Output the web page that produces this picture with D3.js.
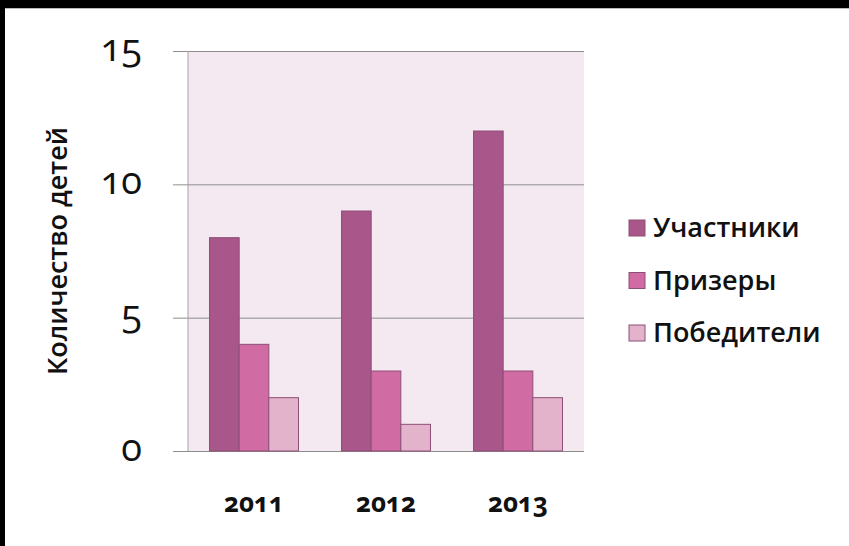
<!DOCTYPE html>
<html>
<head>
<meta charset="utf-8">
<script src="https://cdn.jsdelivr.net/npm/d3@7"></script>
<style>
  html, body { margin: 0; padding: 0; background: #fff; overflow: hidden; }
  svg { display: block; }
</style>
</head>
<body>
<svg id="chart" width="849" height="546"></svg>
<script>
var years = ["2011", "2012", "2013"];
var seriesNames = ["Участники", "Призеры", "Победители"];
var uchastniki = [8, 9, 12];
var prizery = [4, 3, 3];
var pobediteli = [2, 1, 2];
var yTicks = [0, 5, 10, 15];
var colors = ["#a9578a", "#d06ba4", "#e3b3cb"];

var seriesValues = [uchastniki, prizery, pobediteli];
var rows = years.map(function(y, i) {
    return { year: y, values: seriesValues.map(function(s, j) { return { name: seriesNames[j], value: s[i], color: colors[j] }; }) };
});

var svg = d3.select("#chart");

// white panel, black frame on top and left
svg.append("rect")
    .attr("width", 849).attr("height", 546)
    .attr("fill", "#fff");
svg.append("rect")
    .attr("width", 849).attr("height", 8)
    .attr("fill", "#000");
svg.append("rect")
    .attr("width", 5).attr("height", 546)
    .attr("fill", "#000");
svg.append("line")
    .attr("x1", 5).attr("x2", 849).attr("y1", 8.5).attr("y2", 8.5)
    .attr("stroke", "#bbb");

var margin = { top: 51, left: 188, right: 265, bottom: 95 };
var width = 849 - margin.left - margin.right;   // 396
var height = 546 - margin.top - margin.bottom;  // 400

var g = svg.append("g").attr("transform", `translate(${margin.left},${margin.top})`);

var xScale = d3.scaleBand()
    .domain(years)
    .range([0, width])
    .paddingInner(0.326)
    .paddingOuter(0.163);

var xInner = d3.scaleBand()
    .domain(seriesNames)
    .range([0, xScale.bandwidth()]);

var yScale = d3.scaleLinear()
    .domain([0, 15])
    .range([height, 0]);

// plot background
g.append("rect")
    .attr("width", width).attr("height", height)
    .attr("fill", "#f4e9f0");

// grid lines (with small ticks to the left)
g.append("g")
    .call(d3.axisLeft(yScale).tickValues(yTicks).tickSize(-width).tickFormat(""))
    .call(function(a) {
        a.select(".domain").remove();
        a.selectAll(".tick line").attr("stroke", "#8e8e8e").attr("x1", -15);
    });

// vertical axis line
g.append("line")
    .attr("x1", 0).attr("x2", 0)
    .attr("y1", 0).attr("y2", height)
    .attr("stroke", "#a8a0a6");

// y tick labels
g.selectAll(".ylab")
    .data(yTicks)
    .enter()
    .append("text")
    .attr("class", "ylab")
    .attr("x", -46)
    .attr("y", function(d) { return yScale(d); })
    .attr("dy", "0.25em")
    .attr("text-anchor", "end")
    .style("font-family", "'Open Sans', sans-serif")
    .style("font-variant-numeric", "oldstyle-nums")
    .style("font-size", "38px")
    .style("font-weight", "400")
    .style("fill", "#111")
    .text(function(d) { return d; });

// bars
var groups = g.selectAll(".grp")
    .data(rows)
    .enter()
    .append("g")
    .attr("class", "grp")
    .attr("transform", function(d) { return `translate(${xScale(d.year)},0)`; });

groups.selectAll("rect")
    .data(function(d) { return d.values; })
    .enter()
    .append("rect")
    .attr("x", function(d) { return xInner(d.name); })
    .attr("y", function(d) { return yScale(d.value); })
    .attr("width", xInner.bandwidth())
    .attr("height", function(d) { return height - yScale(d.value); })
    .attr("fill", function(d) { return d.color; })
    .attr("stroke", "#8d4f76")
    .attr("stroke-width", 1);

// year labels
g.selectAll(".xlab")
    .data(years)
    .enter()
    .append("text")
    .attr("class", "xlab")
    .attr("x", function(d) { return xScale(d) + xScale.bandwidth() / 2; })
    .attr("y", height + 61)
    .attr("text-anchor", "middle")
    .style("font-family", "'Open Sans', sans-serif")
    .style("font-variant-numeric", "oldstyle-nums")
    .style("font-size", "26px")
    .style("font-weight", "700")
    .style("fill", "#111")
    .text(function(d) { return d; });

// y axis title
svg.append("text")
    .attr("transform", "translate(67,251) rotate(-90)")
    .attr("text-anchor", "middle")
    .style("font-family", "'Open Sans', sans-serif")
    .style("font-size", "27px")
    .style("font-weight", "600")
    .style("fill", "#111")
    .text("Количество детей");

// legend
var legend = svg.selectAll(".leg")
    .data(seriesNames)
    .enter()
    .append("g")
    .attr("class", "leg")
    .attr("transform", function(d, i) { return `translate(629,${228 + i * 52.5})`; });

legend.append("rect")
    .attr("x", 0).attr("y", -8)
    .attr("width", 16).attr("height", 16)
    .attr("fill", function(d, i) { return colors[i]; })
    .attr("stroke", "#8d4f76");

legend.append("text")
    .attr("x", 24)
    .attr("y", 0)
    .attr("dy", "0.35em")
    .style("font-family", "'Open Sans', sans-serif")
    .style("font-size", "27px")
    .style("font-weight", "600")
    .style("fill", "#111")
    .text(function(d) { return d; });
</script>
</body>
</html>
